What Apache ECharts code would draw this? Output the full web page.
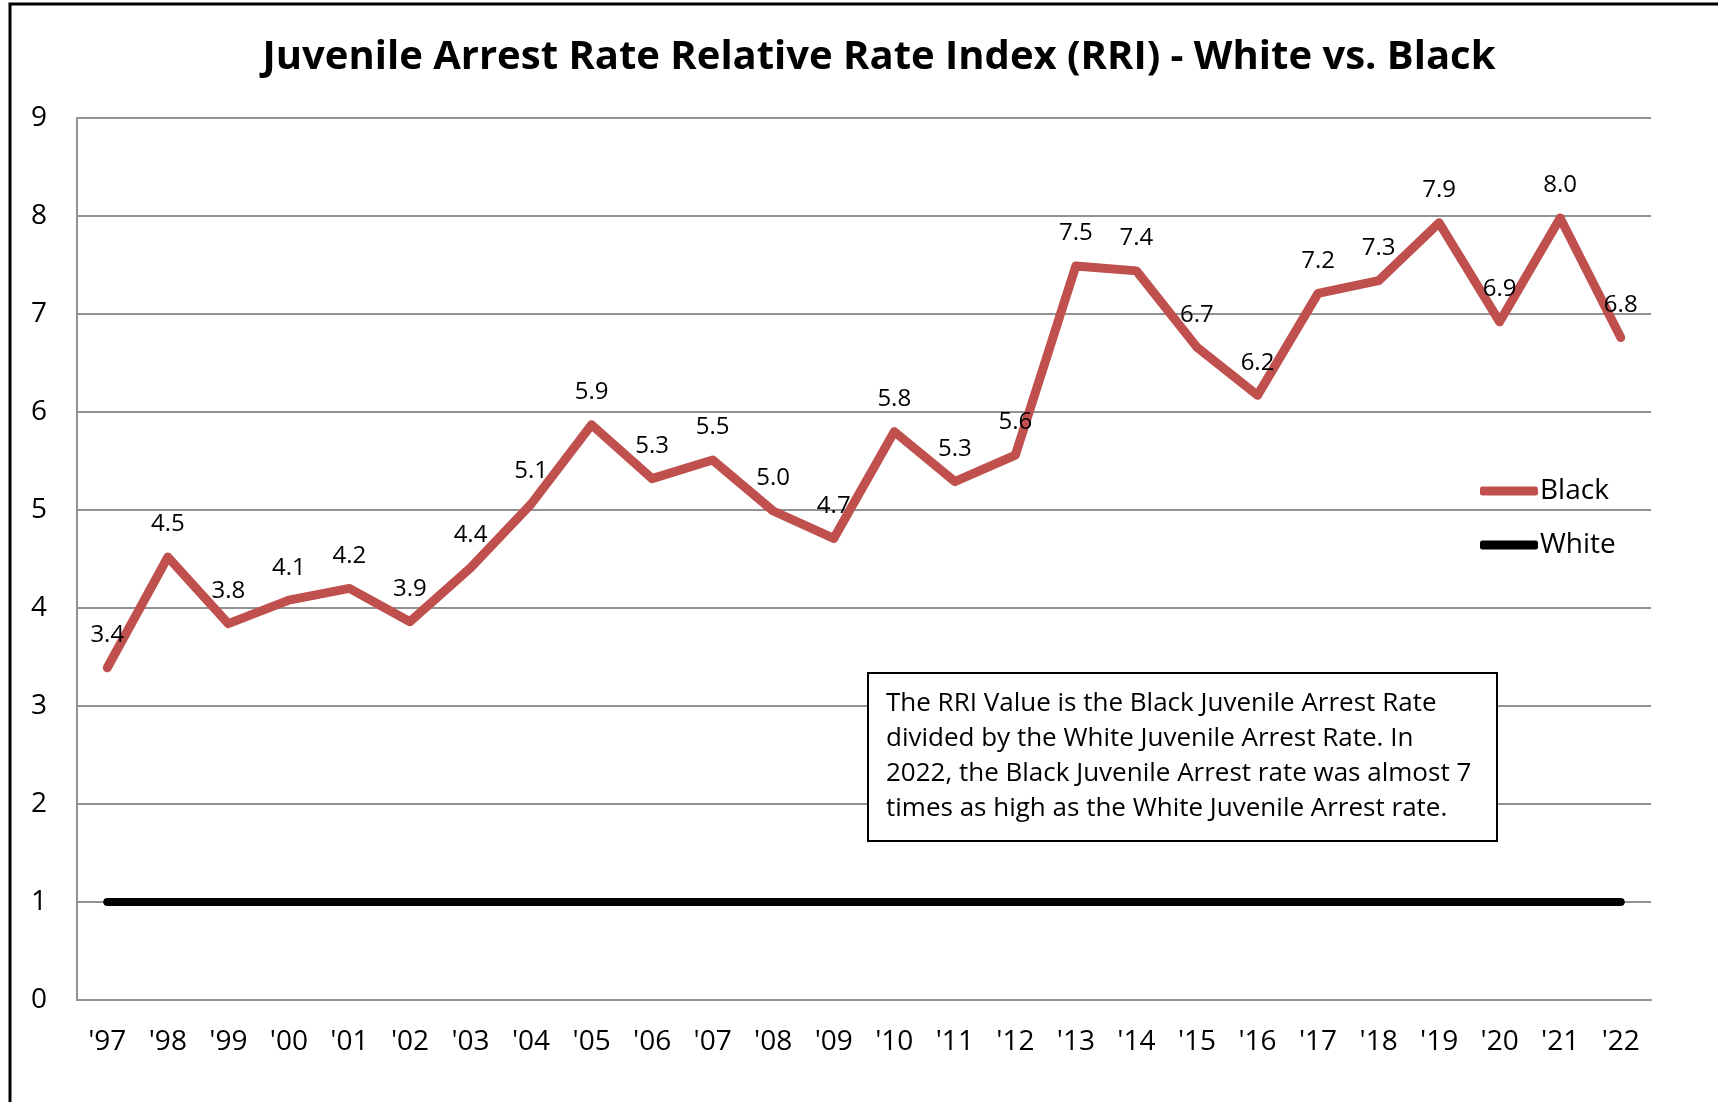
<!DOCTYPE html>
<html lang="en">
<head>
    <meta charset="UTF-8">
    <title>Juvenile Arrest Rate RRI</title>
    <style>
        html, body { margin: 0; padding: 0; background: #fff; }
        #chart { width: 1718px; height: 1102px; }
    </style>
</head>
<body>
    <div id="chart"></div>
</body>
<script src="https://cdn.jsdelivr.net/npm/echarts@6/dist/echarts.min.js"></script>
<script type="text/javascript">
    // years on the x axis
    const years = ["'97", "'98", "'99", "'00", "'01", "'02", "'03", "'04", "'05", "'06", "'07", "'08", "'09",
        "'10", "'11", "'12", "'13", "'14", "'15", "'16", "'17", "'18", "'19", "'20", "'21", "'22"];
    // RRI values
    const blackRRI = [3.39, 4.52, 3.84, 4.08, 4.2, 3.86, 4.41, 5.06, 5.87, 5.32, 5.51, 4.99, 4.71,
        5.8, 5.29, 5.56, 7.49, 7.44, 6.66, 6.17, 7.21, 7.34, 7.93, 6.92, 7.98, 6.76];
    const whiteRRI = [1, 1, 1, 1, 1, 1, 1, 1, 1, 1, 1, 1, 1, 1, 1, 1, 1, 1, 1, 1, 1, 1, 1, 1, 1, 1];
    const yTicks = [0, 9, 1];
    const noteLines = [
        'The RRI Value is the Black Juvenile Arrest Rate',
        'divided by the White Juvenile Arrest Rate. In',
        '2022, the Black Juvenile Arrest rate was almost 7',
        'times as high as the White Juvenile Arrest rate.'
    ];

    const font = '"Open Sans", sans-serif';

    let chart = echarts.init(document.getElementById('chart'));

    // text lines inside the note box
    let noteText = noteLines.map((t, i) => ({
        type: 'text',
        x: 886,
        y: 704 + i * 35,
        z: 101,
        style: { text: t, font: '26px ' + font, fill: '#000', verticalAlign: 'middle' }
    }));

    let option = {
        backgroundColor: '#fff',
        animation: false,
        title: {
            text: 'Juvenile Arrest Rate Relative Rate Index (RRI) - White vs. Black',
            left: 874,
            top: 33,
            textAlign: 'center',
            textStyle: { fontFamily: font, fontWeight: 'bold', fontSize: 40, color: '#000' }
        },
        legend: {
            orient: 'vertical',
            left: 1475,
            top: 470,
            itemWidth: 58,
            itemHeight: 9,
            itemGap: 22,
            icon: 'roundRect',
            textStyle: { fontFamily: font, fontSize: 28, color: '#000', lineHeight: 32, padding: [0, 0, 0, -3] },
            data: ['Black', 'White']
        },
        grid: { left: 77, right: 67, top: 118, bottom: 102 },
        xAxis: {
            type: 'category',
            data: years,
            axisLine: { lineStyle: { color: '#929292', width: 2 } },
            axisTick: { show: false },
            axisLabel: { color: '#000', fontFamily: font, fontSize: 28, margin: 28 }
        },
        yAxis: {
            type: 'value',
            min: yTicks[0],
            max: yTicks[1],
            interval: yTicks[2],
            axisLine: { show: true, lineStyle: { color: '#929292', width: 2 } },
            axisTick: { show: false },
            splitLine: { lineStyle: { color: '#929292', width: 2 } },
            axisLabel: { color: '#000', fontFamily: font, fontSize: 28, margin: 30 }
        },
        series: [{
            name: 'Black',
            type: 'line',
            data: blackRRI,
            symbol: 'circle',
            symbolSize: 1,
            showSymbol: true,
            color: '#C0504D',
            lineStyle: { color: '#C0504D', width: 9, cap: 'round', join: 'round' },
            label: {
                show: true,
                position: 'top',
                distance: 20,
                color: '#000',
                fontFamily: font,
                fontSize: 24,
                formatter: p => p.value.toFixed(1)
            },
            z: 3
        }, {
            name: 'White',
            type: 'line',
            data: whiteRRI,
            symbol: 'none',
            color: '#000',
            lineStyle: { color: '#000', width: 8, cap: 'round' },
            z: 2
        }],
        graphic: [{
            type: 'polyline',
            shape: { points: [[10, 1102], [10, 4], [1718, 4]] },
            style: { stroke: '#000', lineWidth: 3, fill: null },
            z: 100
        }, {
            type: 'rect',
            shape: { x: 868, y: 673, width: 629, height: 168 },
            style: { fill: '#fff', stroke: '#000', lineWidth: 2 },
            z: 100
        }].concat(noteText)
    };
    chart.setOption(option);
</script>
</html>
